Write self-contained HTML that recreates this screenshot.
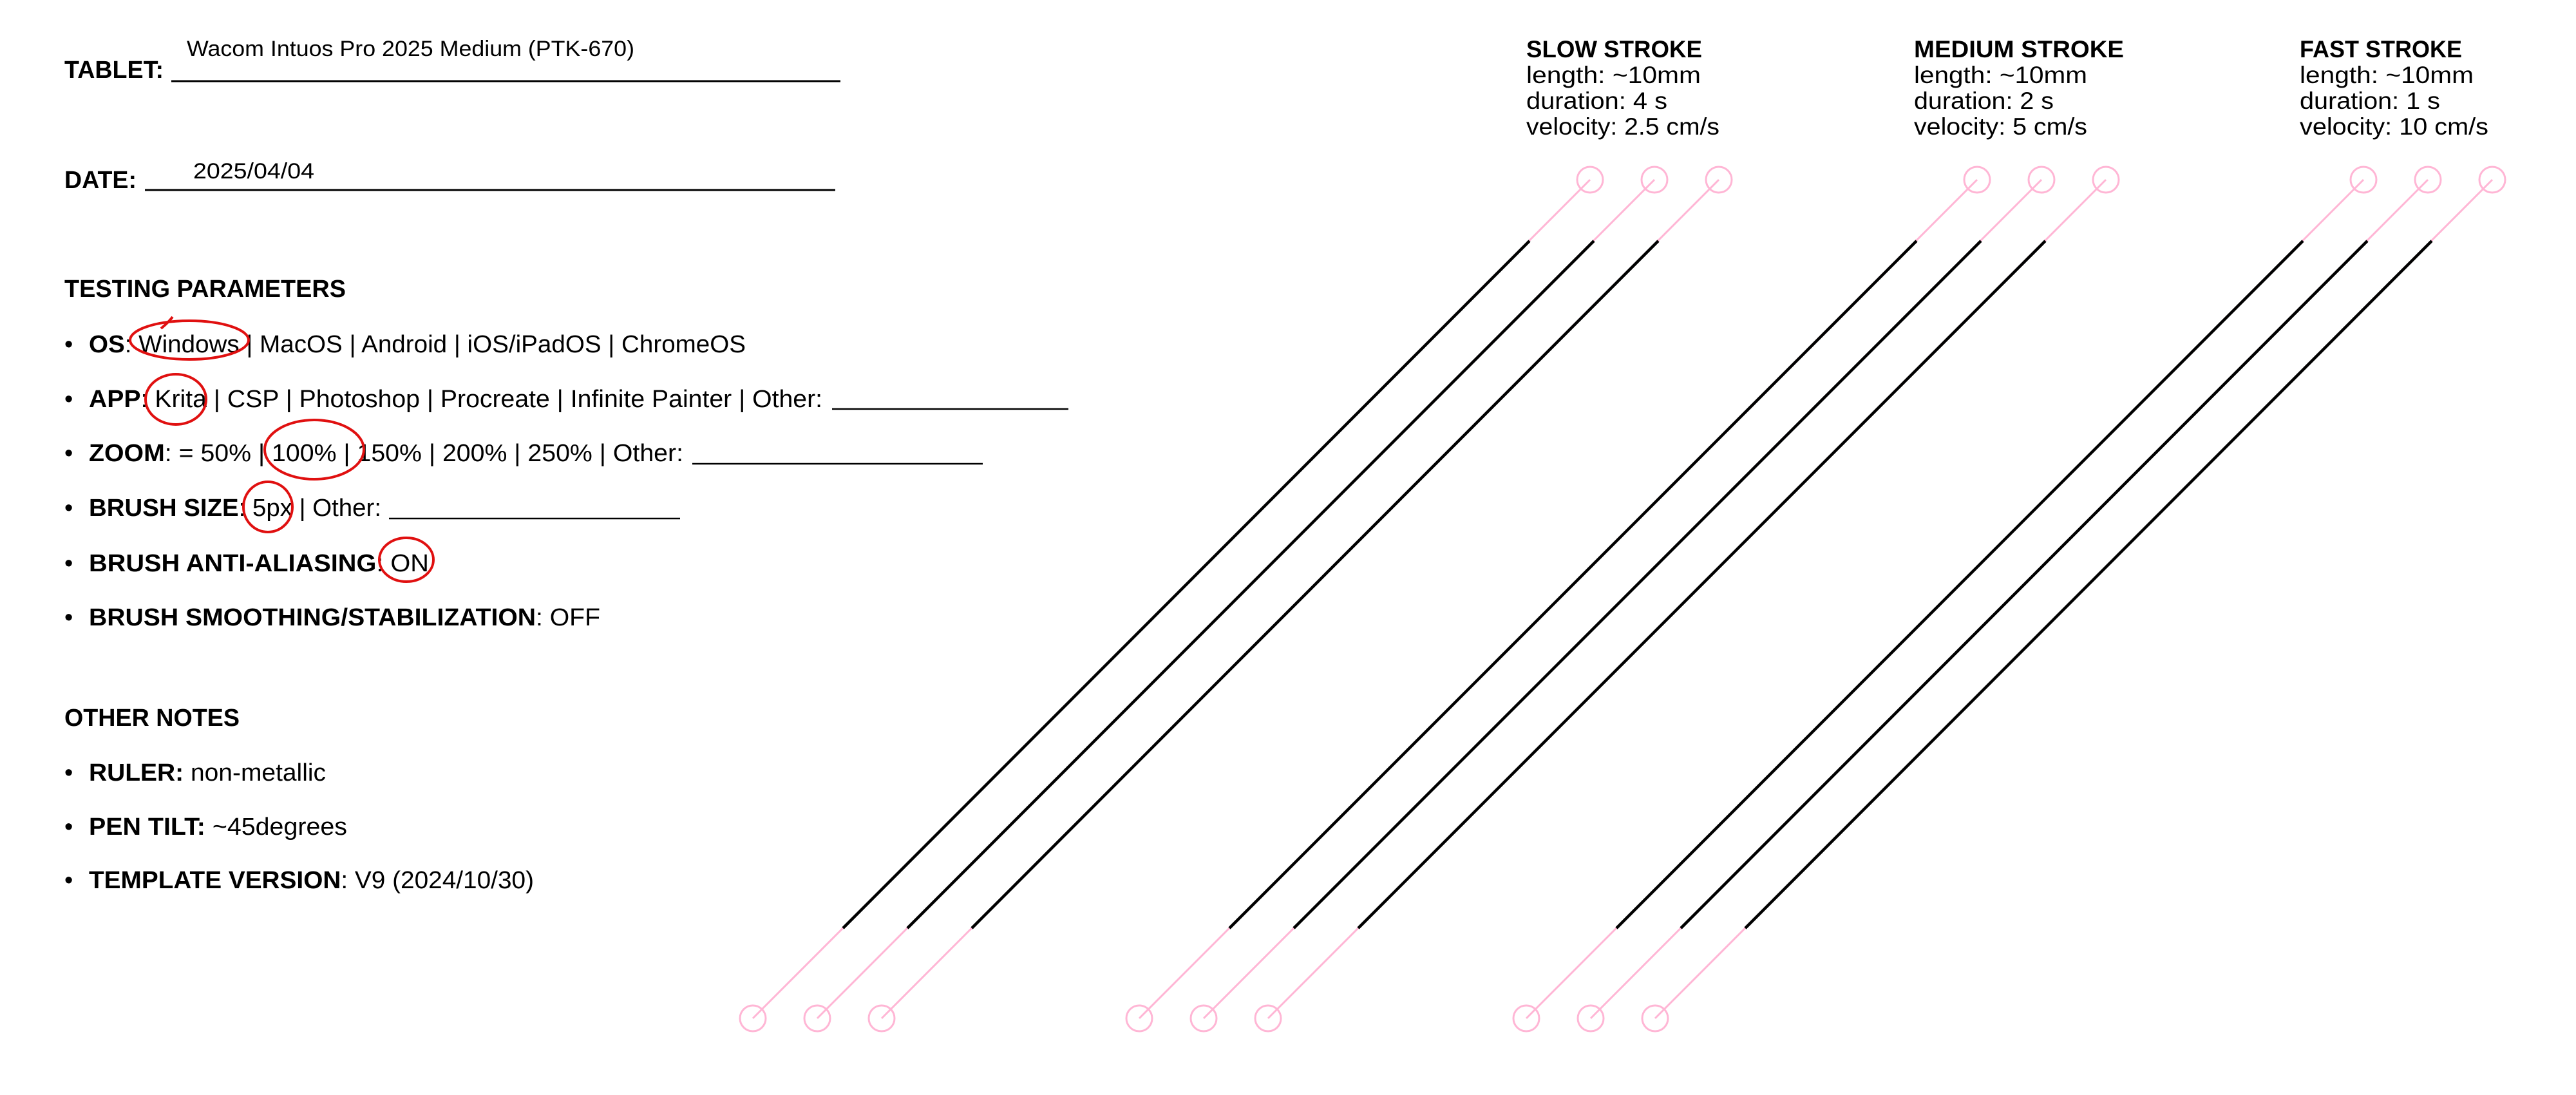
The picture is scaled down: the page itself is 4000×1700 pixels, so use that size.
<!DOCTYPE html>
<html><head><meta charset="utf-8"><style>
html,body{margin:0;padding:0;background:#fff;}
svg{display:block;}
text{font-family:"Liberation Sans",sans-serif;fill:#000;}
.b{font-weight:bold;}
</style></head><body>
<svg width="4000" height="1700" viewBox="0 0 4000 1700" xmlns="http://www.w3.org/2000/svg">
<g font-size="38">
<text x="100" y="121" class="b" textLength="154" lengthAdjust="spacingAndGlyphs">TABLET:</text>
<line x1="266" y1="126" x2="1305" y2="126" stroke="#000" stroke-width="3"/>
<text x="290" y="87" font-size="34" textLength="695" lengthAdjust="spacingAndGlyphs">Wacom Intuos Pro 2025 Medium (PTK-670)</text>
<text x="100" y="292" class="b" textLength="112" lengthAdjust="spacingAndGlyphs">DATE:</text>
<line x1="225" y1="295" x2="1297" y2="295" stroke="#000" stroke-width="3"/>
<text x="300" y="277" font-size="34" textLength="188" lengthAdjust="spacingAndGlyphs">2025/04/04</text>

<text x="100" y="461" class="b" textLength="437" lengthAdjust="spacingAndGlyphs">TESTING PARAMETERS</text>
<g font-size="38">
<text x="100" y="547">•</text><text x="138" y="547" textLength="1020" lengthAdjust="spacingAndGlyphs"><tspan class="b">OS</tspan>: Windows | MacOS | Android | iOS/iPadOS | ChromeOS</text>
<text x="100" y="632">•</text><text x="138" y="632" textLength="1139" lengthAdjust="spacingAndGlyphs"><tspan class="b">APP</tspan>: Krita | CSP | Photoshop | Procreate | Infinite Painter | Other:</text>
<line x1="1292" y1="635" x2="1659" y2="635" stroke="#000" stroke-width="2.5"/>
<text x="100" y="716">•</text><text x="138" y="716" textLength="923" lengthAdjust="spacingAndGlyphs"><tspan class="b">ZOOM</tspan>: = 50% | 100% | 150% | 200% | 250% | Other:</text>
<line x1="1075" y1="720" x2="1526" y2="720" stroke="#000" stroke-width="2.5"/>
<text x="100" y="801">•</text><text x="138" y="801" textLength="454" lengthAdjust="spacingAndGlyphs"><tspan class="b">BRUSH SIZE</tspan>: 5px | Other:</text>
<line x1="604" y1="805" x2="1056" y2="805" stroke="#000" stroke-width="2.5"/>
<text x="100" y="887">•</text><text x="138" y="887" textLength="528" lengthAdjust="spacingAndGlyphs"><tspan class="b">BRUSH ANTI-ALIASING</tspan>: ON</text>
<text x="100" y="971">•</text><text x="138" y="971" textLength="794" lengthAdjust="spacingAndGlyphs"><tspan class="b">BRUSH SMOOTHING/STABILIZATION</tspan>: OFF</text>
</g>
<text x="100" y="1127" class="b" textLength="272" lengthAdjust="spacingAndGlyphs">OTHER NOTES</text>
<g font-size="38">
<text x="100" y="1212">•</text><text x="138" y="1212" textLength="368" lengthAdjust="spacingAndGlyphs"><tspan class="b">RULER:</tspan> non-metallic</text>
<text x="100" y="1296">•</text><text x="138" y="1296" textLength="401" lengthAdjust="spacingAndGlyphs"><tspan class="b">PEN TILT:</tspan> ~45degrees</text>
<text x="100" y="1379">•</text><text x="138" y="1379" textLength="691" lengthAdjust="spacingAndGlyphs"><tspan class="b">TEMPLATE VERSION</tspan>: V9 (2024/10/30)</text>
</g>
</g>

<g fill="none" stroke="#e01010" stroke-width="4">
<ellipse cx="294" cy="528" rx="92" ry="30"/>
<path d="M250 510 Q262 500 268 492"/>
<ellipse cx="273" cy="620" rx="47" ry="39"/>
<ellipse cx="488" cy="698" rx="77" ry="46"/>
<ellipse cx="416" cy="787" rx="38" ry="39"/>
<ellipse cx="631" cy="869" rx="42" ry="34"/>
</g>

<g font-size="37">
<text x="2370" y="89" class="b" textLength="273" lengthAdjust="spacingAndGlyphs">SLOW STROKE</text>
<text x="2370" y="129" textLength="271" lengthAdjust="spacingAndGlyphs">length: ~10mm</text>
<text x="2370" y="169" textLength="219" lengthAdjust="spacingAndGlyphs">duration: 4 s</text>
<text x="2370" y="209" textLength="300" lengthAdjust="spacingAndGlyphs">velocity: 2.5 cm/s</text>
<text x="2972" y="89" class="b" textLength="326" lengthAdjust="spacingAndGlyphs">MEDIUM STROKE</text>
<text x="2972" y="129" textLength="269" lengthAdjust="spacingAndGlyphs">length: ~10mm</text>
<text x="2972" y="169" textLength="217" lengthAdjust="spacingAndGlyphs">duration: 2 s</text>
<text x="2972" y="209" textLength="269" lengthAdjust="spacingAndGlyphs">velocity: 5 cm/s</text>
<text x="3571" y="89" class="b" textLength="252" lengthAdjust="spacingAndGlyphs">FAST STROKE</text>
<text x="3571" y="129" textLength="270" lengthAdjust="spacingAndGlyphs">length: ~10mm</text>
<text x="3571" y="169" textLength="218" lengthAdjust="spacingAndGlyphs">duration: 1 s</text>
<text x="3571" y="209" textLength="293" lengthAdjust="spacingAndGlyphs">velocity: 10 cm/s</text>
</g>

<g>
<g stroke="#ffb6d5" stroke-width="3" fill="none">
<line x1="1169" y1="1581" x2="2469" y2="279"/><circle cx="1169" cy="1581" r="20"/><circle cx="2469" cy="279" r="20"/>
<line x1="1269" y1="1581" x2="2569" y2="279"/><circle cx="1269" cy="1581" r="20"/><circle cx="2569" cy="279" r="20"/>
<line x1="1369" y1="1581" x2="2669" y2="279"/><circle cx="1369" cy="1581" r="20"/><circle cx="2669" cy="279" r="20"/>
<line x1="1769" y1="1581" x2="3070" y2="279"/><circle cx="1769" cy="1581" r="20"/><circle cx="3070" cy="279" r="20"/>
<line x1="1869" y1="1581" x2="3170" y2="279"/><circle cx="1869" cy="1581" r="20"/><circle cx="3170" cy="279" r="20"/>
<line x1="1969" y1="1581" x2="3270" y2="279"/><circle cx="1969" cy="1581" r="20"/><circle cx="3270" cy="279" r="20"/>
<line x1="2370" y1="1581" x2="3670" y2="279"/><circle cx="2370" cy="1581" r="20"/><circle cx="3670" cy="279" r="20"/>
<line x1="2470" y1="1581" x2="3770" y2="279"/><circle cx="2470" cy="1581" r="20"/><circle cx="3770" cy="279" r="20"/>
<line x1="2570" y1="1581" x2="3870" y2="279"/><circle cx="2570" cy="1581" r="20"/><circle cx="3870" cy="279" r="20"/>
</g>
<g stroke="#000" stroke-width="4.5">
<line x1="1309" y1="1441" x2="2375" y2="374"/>
<line x1="1409" y1="1441" x2="2475" y2="374"/>
<line x1="1509" y1="1441" x2="2575" y2="374"/>
<line x1="1909" y1="1441" x2="2976" y2="374"/>
<line x1="2009" y1="1441" x2="3076" y2="374"/>
<line x1="2109" y1="1441" x2="3176" y2="374"/>
<line x1="2510" y1="1441" x2="3576" y2="374"/>
<line x1="2610" y1="1441" x2="3676" y2="374"/>
<line x1="2710" y1="1441" x2="3776" y2="374"/>
</g>
</g>
</svg>
</body></html>
